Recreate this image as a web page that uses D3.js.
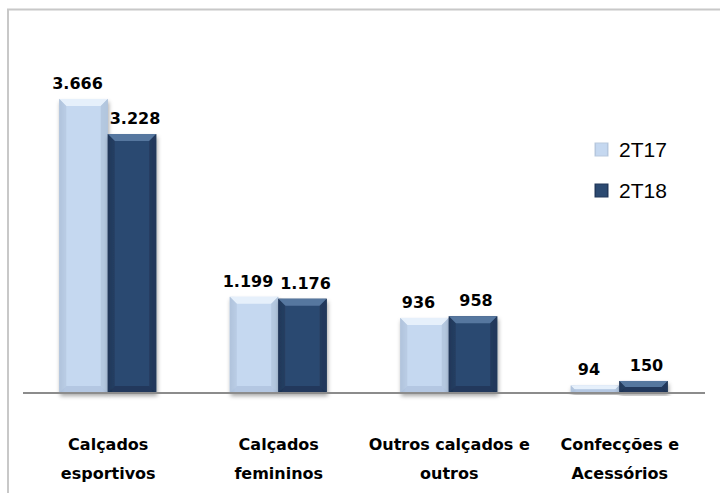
<!DOCTYPE html>
<html>
<head>
<meta charset="utf-8">
<script src="https://cdn.jsdelivr.net/npm/d3@7"></script>
<style>
  body { margin: 0; background: #fff; }
  svg { display: block; }
</style>
</head>
<body>
<div class="plot"></div>
<script>
// DATA
var categories = [["Calçados", "esportivos"], ["Calçados", "femininos"], ["Outros calçados e", "outros"], ["Confecções e", "Acessórios"]];
var series = ["2T17", "2T18"];
var values2T17 = [3666, 1199, 936, 94];
var values2T18 = [3228, 1176, 958, 150];
var valueLabels2T17 = ["3.666", "1.199", "936", "94"];
var valueLabels2T18 = ["3.228", "1.176", "958", "150"];

var w = 720;
var h = 493;
var baseY = 393;

var svg = d3.select(".plot").append("svg").attr("width", w).attr("height", h);

var defs = svg.append("defs");

// horizontal gradients, darker at the edges
function grad(id, edge, mid) {
  var g = defs.append("linearGradient").attr("id", id).attr("x1", 0).attr("x2", 1).attr("y1", 0).attr("y2", 0);
  g.append("stop").attr("offset", "0%").attr("stop-color", edge);
  g.append("stop").attr("offset", "12%").attr("stop-color", mid);
  g.append("stop").attr("offset", "88%").attr("stop-color", mid);
  g.append("stop").attr("offset", "100%").attr("stop-color", edge);
}
grad("g0", "#a8bcd6", "#c5d8f0");
grad("g1", "#1d3352", "#2c4a71");

var shadow = defs.append("filter").attr("id", "shadow").attr("x", "-20%").attr("y", "-20%").attr("width", "140%").attr("height", "140%");
shadow.append("feDropShadow").attr("dx", 1).attr("dy", 3).attr("stdDeviation", 2)
  .attr("flood-color", "#000").attr("flood-opacity", 0.35);

// frame
svg.append("rect")
  .attr("x", 8).attr("y", 9.5)
  .attr("width", 760).attr("height", 520)
  .attr("fill", "none")
  .attr("stroke", "#c8c8c8")
  .attr("stroke-width", 2);

// SCALES
var x0 = d3.scaleBand()
  .domain(d3.range(categories.length))
  .range([23, 705]);

var x1 = d3.scaleBand()
  .domain(series)
  .range([x0.bandwidth() / 2 - 49, x0.bandwidth() / 2 + 48]);

var y = d3.scaleLinear()
  .domain([0, 4000])
  .range([baseY, baseY - 320.8]);

var colors = {
  "2T17": { fill: "url(#g0)", top: "#e6f0fb", side: "#b3c6de", bottom: "#a9bdd8" },
  "2T18": { fill: "url(#g1)", top: "#56779f", side: "#22395b", bottom: "#1b2f4c" }
};

var rows = [];
categories.forEach(function (c, i) {
  rows.push({ i: i, s: "2T17", v: values2T17[i], label: valueLabels2T17[i] });
  rows.push({ i: i, s: "2T18", v: values2T18[i], label: valueLabels2T18[i] });
});

var bars = svg.selectAll(".bar")
  .data(rows)
  .enter()
  .append("g")
  .attr("class", "bar")
  .attr("filter", "url(#shadow)");

bars.each(function (d) {
  var g = d3.select(this);
  var bx = x0(d.i) + x1(d.s);
  var bw = x1.bandwidth();
  var top = y(d.v);
  var bh = baseY - top;
  var b = Math.min(7, bh / 2);
  var c = colors[d.s];

  g.append("rect")
    .attr("x", bx).attr("y", top)
    .attr("width", bw).attr("height", bh)
    .attr("fill", c.fill);

  // bevel: top
  g.append("polygon")
    .attr("points", [[bx, top], [bx + bw, top], [bx + bw - b, top + b], [bx + b, top + b]].join(" "))
    .attr("fill", c.top);
  // bevel: left and right
  g.append("polygon")
    .attr("points", [[bx, top], [bx + b, top + b], [bx + b, baseY - b], [bx, baseY]].join(" "))
    .attr("fill", c.side).attr("opacity", 0.7);
  g.append("polygon")
    .attr("points", [[bx + bw, top], [bx + bw - b, top + b], [bx + bw - b, baseY - b], [bx + bw, baseY]].join(" "))
    .attr("fill", c.side).attr("opacity", 0.9);
  // bevel: bottom
  g.append("polygon")
    .attr("points", [[bx, baseY], [bx + b, baseY - b], [bx + bw - b, baseY - b], [bx + bw, baseY]].join(" "))
    .attr("fill", c.bottom).attr("opacity", 0.6);
});

// axis line
svg.append("line")
  .attr("x1", 23).attr("x2", 705)
  .attr("y1", baseY).attr("y2", baseY)
  .attr("stroke", "#8c8c8c")
  .attr("stroke-width", 2);

// value labels
svg.selectAll(".val")
  .data(rows)
  .enter()
  .append("text")
  .attr("class", "val")
  .attr("x", function (d) { return x0(d.i) + x1(d.s) + x1.bandwidth() / 2 + (d.s === "2T18" ? 3 : -6); })
  .attr("y", function (d) { return y(d.v) - 10; })
  .attr("text-anchor", "middle")
  .attr("font-family", "DejaVu Sans, sans-serif")
  .attr("font-weight", "bold")
  .attr("font-size", "16px")
  .attr("fill", "#000")
  .text(function (d) { return d.label; });

// category labels
var cat = svg.selectAll(".cat")
  .data(categories)
  .enter()
  .append("text")
  .attr("class", "cat")
  .attr("x", function (d, i) { return x0(i) + x0.bandwidth() / 2; })
  .attr("y", 450)
  .attr("text-anchor", "middle")
  .attr("font-family", "DejaVu Sans, sans-serif")
  .attr("font-weight", "bold")
  .attr("font-size", "16px")
  .attr("fill", "#000");

cat.selectAll("tspan")
  .data(function (d) { return d; })
  .enter()
  .append("tspan")
  .attr("x", function () { return d3.select(this.parentNode).attr("x"); })
  .attr("dy", function (d, j) { return j === 0 ? 0 : 29; })
  .text(function (d) { return d; });

// legend
var legend = svg.selectAll(".legend")
  .data(series)
  .enter()
  .append("g")
  .attr("class", "legend")
  .attr("transform", function (d, i) { return "translate(595," + (143 + i * 41) + ")"; });

legend.append("rect")
  .attr("width", 13).attr("height", 13)
  .attr("fill", function (d) { return d === "2T17" ? "url(#g0)" : "url(#g1)"; })
  .attr("stroke", function (d) { return d === "2T17" ? "#b9c9de" : "#22395b"; })
  .attr("stroke-width", 1);

legend.append("text")
  .attr("x", 24)
  .attr("y", 14)
  .attr("font-family", "Liberation Sans, sans-serif")
  .attr("font-size", "21px")
  .attr("fill", "#000")
  .text(function (d) { return d; });
</script>
</body>
</html>
